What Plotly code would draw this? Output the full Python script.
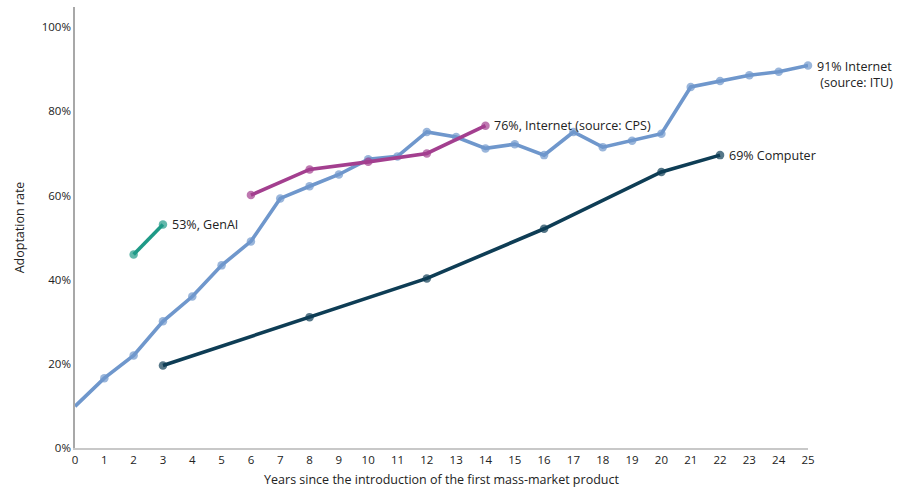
import plotly.graph_objects as go

# ---- data ----
itu_years = list(range(0, 26))
itu_vals = [9.9, 16.6, 22.0, 30.1, 36.0, 43.4, 49.1, 59.3, 62.2, 65.0, 68.6, 69.3, 75.1,
            73.9, 71.2, 72.2, 69.6, 75.1, 71.5, 73.0, 74.7, 85.8, 87.2, 88.6, 89.4, 90.9]

cps_years = [6, 8, 10, 12, 14]
cps_vals = [60.1, 66.2, 68.0, 70.0, 76.6]

genai_years = [2, 3]
genai_vals = [46.0, 53.1]

comp_years = [3, 8, 12, 16, 20, 22]
comp_vals = [19.6, 31.1, 40.3, 52.1, 65.6, 69.6]

end_labels = {
    "genai": "53%, GenAI",
    "cps": "76%, Internet (source: CPS)",
    "itu": "91% Internet<br> (source: ITU)",
    "comp": "69% Computer",
}

x_ticks = list(range(0, 26))
y_ticks = [0, 20, 40, 60, 80, 100]
y_tick_labels = ["0%", "20%", "40%", "60%", "80%", "100%"]

# ---- styles ----
C_ITU = "#6f97cc"
C_CPS = "#a33f8f"
C_GEN = "#1f9a87"
C_COMP = "#0e3d55"
FONT = "Open Sans"

fig = go.Figure()

def add_series(xs, ys, color, show_first_marker=True):
    sizes = [8.5] * len(xs)
    if not show_first_marker:
        sizes[0] = 0
    fig.add_trace(go.Scatter(
        x=xs, y=ys, mode="lines+markers",
        line=dict(color=color, width=3.6),
        marker=dict(color=color, size=sizes, line=dict(width=0)),
        cliponaxis=False, showlegend=False, hoverinfo="skip"))

add_series(itu_years, itu_vals, C_ITU, show_first_marker=False)
add_series(comp_years, comp_vals, C_COMP)
add_series(cps_years, cps_vals, C_CPS)
add_series(genai_years, genai_vals, C_GEN)

label_font = dict(family=FONT, size=12.5, color="#222222")
annots = [
    (genai_years[-1], genai_vals[-1], end_labels["genai"]),
    (cps_years[-1], cps_vals[-1], end_labels["cps"]),
    (itu_years[-1], itu_vals[-1], end_labels["itu"]),
    (comp_years[-1], comp_vals[-1], end_labels["comp"]),
]
for x, y, t in annots:
    multi = "<br>" in t
    fig.add_annotation(x=x, y=y, text=t, showarrow=False, xanchor="left",
                       yanchor="top" if multi else "middle",
                       yshift=9 if multi else 0,
                       xshift=7, align="left", font=label_font)

fig.update_xaxes(
    range=[0, 25], tickmode="array", tickvals=x_ticks, automargin=False,
    showgrid=False, zeroline=False, showline=True, linecolor="#c8c8c8", linewidth=1.5,
    ticks="", tickfont=dict(family=FONT, size=11.5, color="#222222"),
    title=dict(text="Years since the introduction of the first mass-market product",
               font=dict(family=FONT, size=12.5, color="#222222"), standoff=12),
)
fig.update_yaxes(
    range=[0, 104.8], tickmode="array", tickvals=y_ticks, ticktext=y_tick_labels,
    automargin=False,
    showgrid=False, zeroline=False, showline=True, linecolor="#a8a8a8", linewidth=1.5,
    ticks="", tickfont=dict(family=FONT, size=11.5, color="#222222"),
    title=dict(text="Adoptation rate", font=dict(family=FONT, size=12.5, color="#222222"),
               standoff=14),
)

fig.update_layout(
    width=898, height=488,
    margin=dict(l=75, r=90, t=7, b=40),
    paper_bgcolor="white", plot_bgcolor="white",
    font=dict(family=FONT),
)

fig.write_html("out.html")
